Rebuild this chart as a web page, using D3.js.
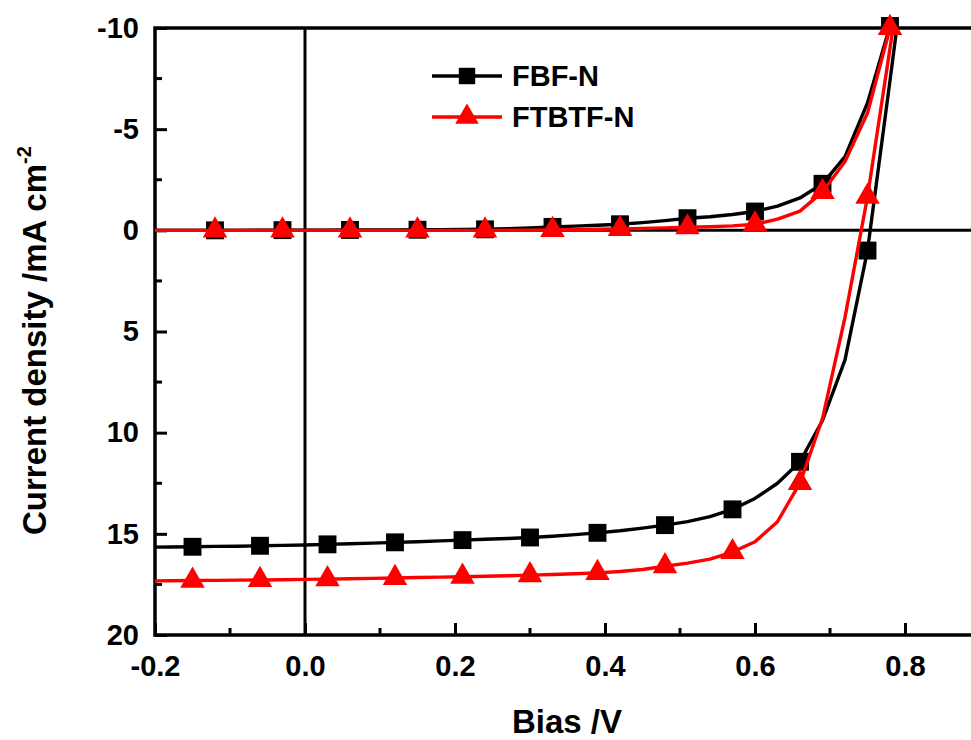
<!DOCTYPE html>
<html>
<head>
<meta charset="utf-8">
<script src="https://cdn.jsdelivr.net/npm/d3@7"></script>
<style>
body{margin:0;background:#fff;}
text{font-family:"Liberation Sans",Arial,sans-serif;font-weight:bold;}
</style>
</head>
<body>
<script>
var bias = [-0.21,-0.18,-0.15,-0.12,-0.09,-0.06,-0.03,0.00,0.03,0.06,0.09,0.12,0.15,0.18,0.21,0.24,0.27,0.30,0.33,0.36,0.39,0.42,0.45,0.48,0.51,0.54,0.57,0.60,0.63,0.66,0.69,0.72,0.75,0.78,0.81];

var fbfLight = [15.66,15.65,15.64,15.62,15.61,15.59,15.57,15.55,15.52,15.49,15.46,15.42,15.39,15.35,15.31,15.27,15.23,15.18,15.12,15.04,14.95,14.85,14.72,14.57,14.40,14.15,13.79,13.25,12.5,11.44,9.4,6.4,1.0,-7.4,-16];
var ftbtfLight = [17.33,17.32,17.31,17.30,17.29,17.28,17.27,17.25,17.24,17.22,17.20,17.18,17.16,17.14,17.12,17.10,17.07,17.04,17.01,16.97,16.93,16.86,16.76,16.60,16.45,16.25,15.90,15.39,14.40,12.48,9.3,4.3,-1.66,-9.0,-16.5];
var fbfDark = [0,0,0,0,0,-0.01,-0.01,-0.01,-0.01,-0.02,-0.02,-0.02,-0.03,-0.03,-0.04,-0.05,-0.08,-0.12,-0.17,-0.21,-0.25,-0.30,-0.38,-0.48,-0.60,-0.67,-0.78,-0.93,-1.2,-1.6,-2.3,-3.64,-6.3,-10.1,null];
var ftbtfDark = [0,0,0,0,0,0,0,0,0,0,0,0,0,0,0,0,-0.01,-0.01,-0.02,-0.03,-0.05,-0.07,-0.09,-0.12,-0.15,-0.18,-0.22,-0.3,-0.55,-0.95,-1.9,-3.4,-5.8,-10.0,null];

var seriesNames = ['FBF-N','FTBTF-N'];
var xTicks = [-0.2,0.0,0.2,0.4,0.6,0.8];
var xMinor = [-0.1,0.1,0.3,0.5,0.7];
var yTicks = [-10,-5,0,5,10,15,20];
var yMinor = [-7.5,-2.5,2.5,7.5,12.5,17.5];

var W = 971, H = 740;
var pL = 155, pT = 28, pB = 635, pR = 980;

var x = d3.scaleLinear().domain([-0.2,0.9]).range([pL,pR]);
var y = d3.scaleLinear().domain([-10,20]).range([pT,pB]);

var svg = d3.select("body").append("svg").attr("width",W).attr("height",H);

svg.append("clipPath").attr("id","plot")
    .append("rect").attr("x",pL).attr("y",pT).attr("width",pR-pL).attr("height",pB-pT);

// zero lines
svg.append("line").attr("x1",x(0)).attr("x2",x(0)).attr("y1",pT).attr("y2",pB)
    .attr("stroke","#000").attr("stroke-width",3);
svg.append("line").attr("x1",pL).attr("x2",pR).attr("y1",y(0)).attr("y2",y(0))
    .attr("stroke","#000").attr("stroke-width",3);

// axes
var xAxis = d3.axisBottom(x).tickValues(xTicks).tickSizeInner(-12).tickSizeOuter(0).tickPadding(20)
    .tickFormat(function(d){return d.toFixed(1);});
var yAxis = d3.axisLeft(y).tickValues(yTicks).tickSizeInner(-12).tickSizeOuter(0).tickPadding(16)
    .tickFormat(function(d){return String(d);});

var gx = svg.append("g").attr("transform","translate(0,"+pB+")").call(xAxis);
var gy = svg.append("g").attr("transform","translate("+pL+",0)").call(yAxis);
[gx,gy].forEach(function(g){
    g.select(".domain").remove();
    g.selectAll(".tick line").attr("stroke","#000").attr("stroke-width",3);
    g.selectAll(".tick text").attr("fill","#000").attr("font-size",29);
});
gx.selectAll(".tick text").attr("dy","0.71em");
gx.selectAll("line.minor").data(xMinor).enter().append("line")
    .attr("x1",function(d){return x(d);}).attr("x2",function(d){return x(d);})
    .attr("y1",0).attr("y2",-7).attr("stroke","#000").attr("stroke-width",3);
gy.selectAll("line.minor").data(yMinor).enter().append("line")
    .attr("y1",function(d){return y(d);}).attr("y2",function(d){return y(d);})
    .attr("x1",0).attr("x2",7).attr("stroke","#000").attr("stroke-width",3);

// frame
svg.append("path")
    .attr("d","M"+pR+","+pT+"H"+pL+"V"+pB+"H"+pR)
    .attr("fill","none").attr("stroke","#000").attr("stroke-width",3.5);

var line = d3.line()
    .defined(function(d){return d[1] !== null;})
    .x(function(d){return x(d[0]);})
    .y(function(d){return y(d[1]);});

function pairs(vals){ return bias.map(function(b,i){return [b,vals[i]];}); }

var square = d3.symbol().type(d3.symbolSquare).size(320);
var triangle = d3.symbol().type(d3.symbolTriangle).size(260);

function drawSeries(vals,color,sym,start){
    var pts = pairs(vals);
    svg.append("path").datum(pts)
        .attr("clip-path","url(#plot)")
        .attr("fill","none").attr("stroke",color).attr("stroke-width",3.4)
        .attr("stroke-linejoin","round")
        .attr("d",line);
    svg.append("g").selectAll("path")
        .data(pts.filter(function(d,i){return i>0 && i%3===start && d[1]!==null;}))
        .enter().append("path")
            .attr("d",sym)
            .attr("fill",color)
            .attr("transform",function(d){return "translate("+x(d[0])+","+y(d[1])+")";});
}

drawSeries(fbfLight,"#000",square,2);
drawSeries(fbfDark,"#000",square,0);
drawSeries(ftbtfLight,"#ff0000",triangle,2);
drawSeries(ftbtfDark,"#ff0000",triangle,0);

// legend
var legendSquare = d3.symbol().type(d3.symbolSquare).size(270);
var legendTriangle = d3.symbol().type(d3.symbolTriangle).size(240);
var legend = svg.append("g").attr("transform","translate(432,76)");
legend.selectAll("g").data(seriesNames).enter().append("g")
    .attr("transform",function(d,i){return "translate(0,"+(i*41)+")";})
    .each(function(d,i){
        var g = d3.select(this);
        var c = i===0 ? "#000" : "#ff0000";
        g.append("line").attr("x1",0).attr("x2",70).attr("stroke",c).attr("stroke-width",3.4);
        g.append("path").attr("d",i===0 ? legendSquare : legendTriangle).attr("fill",c).attr("transform","translate(35,0)");
        g.append("text").attr("x",80).attr("y",0).attr("dy","0.36em").attr("font-size",29).attr("fill","#000").text(d);
    });

// axis titles
svg.append("text").attr("x",567).attr("y",733).attr("text-anchor","middle")
    .attr("font-size",33).text("Bias /V");

var yt = svg.append("text").attr("transform","translate(46,535) rotate(-90)")
    .attr("text-anchor","start").attr("font-size",33);
yt.append("tspan").text("Current density /mA cm");
yt.append("tspan").attr("dy",-15).attr("font-size",20).text("-2");
</script>
</body>
</html>
